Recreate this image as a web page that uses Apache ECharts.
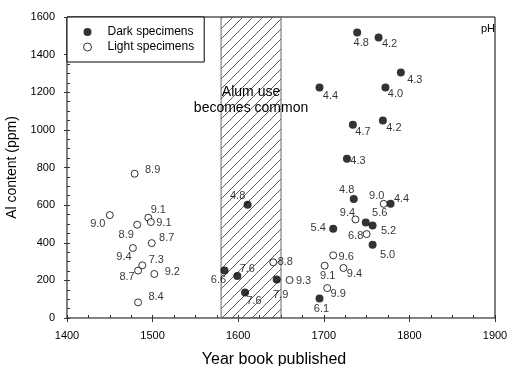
<!DOCTYPE html>
<html>
<head>
<meta charset="utf-8">
<script src="https://cdn.jsdelivr.net/npm/echarts@6/dist/echarts.min.js"></script>
<style>
  html, body { margin: 0; padding: 0; background: #fff; }
  #chart { width: 510px; height: 366px; }
</style>
</head>
<body>
<div id="chart"></div>
<script>
// Dark specimens: publication year, Al content (ppm), pH
const darkYears = [1739, 1764, 1790, 1695, 1772, 1734, 1769, 1727, 1611, 1584, 1599, 1608, 1735, 1778, 1749, 1757, 1711, 1757, 1645, 1695];
const darkAl    = [1518, 1491, 1305, 1225, 1225, 1027, 1050, 847, 602, 253, 223, 135, 632, 607, 507, 492, 475, 390, 204, 103];
const darkPH    = [4.8, 4.2, 4.3, 4.4, 4.0, 4.7, 4.2, 4.3, 4.8, 6.6, 7.6, 7.6, 4.8, 4.4, 5.6, 5.2, 5.4, 5.0, 7.9, 6.1];

// Light specimens: publication year, Al content (ppm), pH
const lightYears = [1479, 1450, 1495, 1498, 1482, 1499, 1477, 1488, 1483, 1502, 1483, 1770, 1737, 1750, 1711, 1701, 1723, 1641, 1660, 1704];
const lightAl    = [767, 547, 533, 510, 496, 398, 372, 280, 252, 234, 83, 607, 524, 446, 333, 278, 266, 296, 202, 159];
const lightPH    = [8.9, 9.0, 9.1, 9.1, 8.9, 8.7, 9.4, 7.3, 8.7, 9.2, 8.4, 9.0, 9.4, 6.8, 9.6, 9.1, 9.4, 8.8, 9.3, 9.9];

// Period when alum use became common
const alumStart = 1580;
const alumEnd = 1650;

// Axis ranges, major and minor tick steps
const xMin = 1400, xMax = 1900, xStep = 100, xMinorStep = 25;
const yMin = 0, yMax = 1600, yStep = 200, yMinorStep = 50;

// pH label placement (pixel offsets from each marker)
const darkLabelOffsets = [[4,11],[11,6],[14,7],[11,8],[10,6],[10,7],[11,7],[11,2],[-10,-9],[-6,10],[10,-7],[9,8],[-7,-9],[11,-5],[14,-10],[16,6],[-15,-1],[15,10],[4,15],[2,10]];
const lightLabelOffsets = [[18,-4],[-12,9],[10,-8],[13,1],[-11,10],[15,-5],[-9,9],[14,-5],[-11,6],[18,-2],[18,-5],[-7,-8],[-8,-6],[-11,2],[13,2],[3,10],[11,6],[12,0],[14,1],[11,6]];

const FONT = 'Liberation Sans, Arial, Helvetica, sans-serif';

// Diagonal hatch tile for the alum band
function hatchPattern() {
  const c = document.createElement('canvas');
  c.width = 10; c.height = 10;
  const g = c.getContext('2d');
  g.strokeStyle = '#333';
  g.lineWidth = 0.8;
  g.beginPath();
  g.moveTo(-1, 11); g.lineTo(11, -1);
  g.moveTo(-6, 6); g.lineTo(6, -6);
  g.moveTo(4, 16); g.lineTo(16, 4);
  g.stroke();
  return c;
}

function buildPoints(xs, ys, ph, offsets) {
  return xs.map((x, i) => ({
    value: [x, ys[i], ph[i]],
    label: { offset: offsets[i] }
  }));
}

const pointLabel = {
  show: true,
  position: 'inside',
  color: '#000',
  fontFamily: FONT,
  fontSize: 11,
  formatter: p => p.value[2].toFixed(1)
};

const chart = echarts.init(document.getElementById('chart'), null, { renderer: 'canvas' });

const plain = v => String(v);

// Helper axis carrying the short inward ticks between the labelled ones
function innerTickAxis(min, max, step, position) {
  return {
    type: 'value', min: min, max: max, interval: step,
    position: position,
    splitLine: { show: false },
    axisLine: { show: false },
    axisTick: { show: true, inside: true, length: 3, lineStyle: { color: '#333' } },
    axisLabel: { show: false }
  };
}

chart.setOption({
  animation: false,
  backgroundColor: '#fff',
  textStyle: { fontFamily: FONT },
  grid: {
    left: 67, right: 15, top: 17, bottom: 48,
    outerBoundsMode: 'none',
    containLabel: false,
    show: true, borderColor: '#000', borderWidth: 1, backgroundColor: 'transparent'
  },
  legend: {
    orient: 'vertical',
    left: 67, top: 17,
    padding: [9, 10, 9, 16],
    itemWidth: 30, itemHeight: 8, itemGap: 3,
    backgroundColor: '#fff',
    borderColor: '#000', borderWidth: 1,
    textStyle: { fontSize: 12, lineHeight: 12, color: '#000', fontFamily: FONT },
    data: [
      { name: 'Dark specimens', icon: 'circle' },
      { name: 'Light specimens', icon: 'circle', itemStyle: { borderWidth: 1 } }
    ],
    z: 10
  },
  xAxis: [
    {
      type: 'value', min: xMin, max: xMax, interval: xStep,
      splitLine: { show: false },
      name: 'Year book published',
      nameLocation: 'middle', nameGap: 34,
      nameTextStyle: { fontSize: 16, color: '#000', fontFamily: FONT, padding: [0, 14, 0, 0] },
      axisLine: { show: true, onZero: false, lineStyle: { color: '#888', width: 1 } },
      axisTick: { show: true, inside: false, length: 4, lineStyle: { color: '#333' } },
      axisLabel: { fontSize: 11, color: '#000', margin: 12, fontFamily: FONT, formatter: plain }
    },
    innerTickAxis(xMin, xMax, xMinorStep, 'bottom')
  ],
  yAxis: [
    {
      type: 'value', min: yMin, max: yMax, interval: yStep,
      splitLine: { show: false },
      name: 'Al content (ppm)',
      nameLocation: 'middle', nameGap: 41,
      nameTextStyle: { fontSize: 14, color: '#000', fontFamily: FONT },
      axisLine: { show: true, onZero: false, lineStyle: { color: '#888', width: 1 } },
      axisTick: { show: true, inside: false, length: 3, lineStyle: { color: '#333' } },
      axisLabel: { fontSize: 11, color: '#000', margin: 12, fontFamily: FONT, formatter: plain }
    },
    innerTickAxis(yMin, yMax, yMinorStep, 'left')
  ],
  graphic: [
    {
      type: 'text', right: 15, top: 23, z: 5,
      style: { text: 'pH', fill: '#000', font: '11px ' + FONT }
    }
  ],
  series: [
    {
      name: 'Dark specimens',
      type: 'scatter',
      symbol: 'circle',
      symbolSize: 8,
      itemStyle: { color: '#000' },
      label: pointLabel,
      data: buildPoints(darkYears, darkAl, darkPH, darkLabelOffsets),
      z: 4,
      markArea: {
        silent: true,
        itemStyle: {
          color: { image: hatchPattern(), repeat: 'repeat' },
          borderColor: '#666', borderWidth: 1
        },
        label: {
          show: true,
          position: 'insideTop',
          distance: 68,
          fontSize: 14,
          lineHeight: 16,
          color: '#000',
          fontFamily: FONT,
          align: 'center'
        },
        data: [[
          { name: 'Alum use\nbecomes common', xAxis: alumStart, yAxis: yMax },
          { xAxis: alumEnd, yAxis: yMin }
        ]]
      }
    },
    {
      name: 'Light specimens',
      type: 'scatter',
      symbol: 'circle',
      symbolSize: 7,
      itemStyle: { color: '#fff', borderColor: '#000', borderWidth: 1 },
      label: pointLabel,
      data: buildPoints(lightYears, lightAl, lightPH, lightLabelOffsets),
      z: 4
    }
  ]
});
</script>
</body>
</html>
